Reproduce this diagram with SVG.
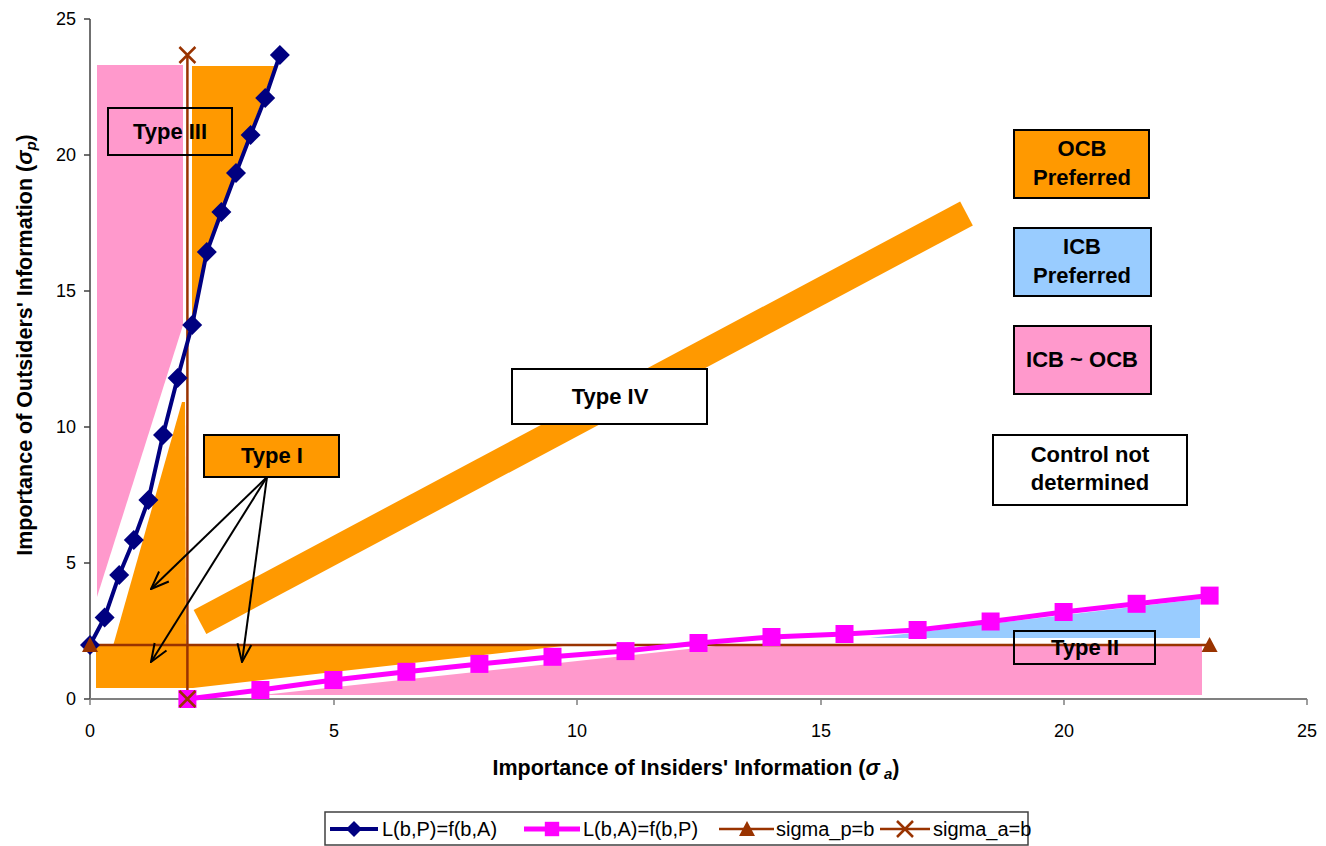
<svg xmlns="http://www.w3.org/2000/svg" width="1326" height="846" viewBox="0 0 1326 846">
<style>
.lbl{font-family:"Liberation Sans",Arial,sans-serif;font-weight:bold;font-size:22px;fill:#000;text-anchor:middle}
.ttl{font-family:"Liberation Sans",Arial,sans-serif;font-weight:bold;font-size:21.5px;fill:#000;text-anchor:middle}
.tick{font-family:"Liberation Sans",Arial,sans-serif;font-size:18px;fill:#000}
.leg{font-family:"Liberation Sans",Arial,sans-serif;font-size:20px;fill:#000}
.box{stroke:#000;stroke-width:2}
.arr{stroke:#000;stroke-width:2;fill:none}
</style>
<defs>
<path id="dia" d="M0,-10 L10,0 L0,10 L-10,0Z" fill="#000080"/>
<rect id="sq" x="-9" y="-9" width="18" height="18" fill="#FF00FF"/>
<path id="tri" d="M0,-8 L8,7 L-8,7Z" fill="#993300"/>
<path id="xm" d="M-8,-8 L8,8 M-8,8 L8,-8" stroke="#993300" stroke-width="2.5" fill="none"/>
<marker id="ah" viewBox="0 0 20 20" refX="19" refY="10" markerWidth="20" markerHeight="20" markerUnits="userSpaceOnUse" orient="auto">
<path d="M1,3 L19,10 L1,17" fill="none" stroke="#000" stroke-width="2"/>
</marker>
</defs>
<rect width="1326" height="846" fill="#fff"/>
<g id="regions">
<polygon points="97,65 183,65 183,325 97,597" fill="#FF99CC"/>
<polygon points="192,66 275,66 240,160 208,247 195,320 192,335" fill="#FF9900"/>
<polygon points="182,402 185,402 186,646 113,646" fill="#FF9900"/>
<polygon points="96,646 563,646 193,688 96,688" fill="#FF9900"/>
<polygon points="262,695 716,646 716,695" fill="#FF99CC"/>
<rect x="716" y="645" width="486" height="50" fill="#FF99CC"/>
<polygon points="870,638 1200,599 1200,638" fill="#99CCFF"/>
<line x1="200" y1="622" x2="966.5" y2="213.5" stroke="#FF9900" stroke-width="27"/>
</g>
<g id="axes">
<line x1="90" y1="19" x2="90" y2="699" stroke="#404040" stroke-width="1.5"/>
<line x1="90" y1="699" x2="1307" y2="699" stroke="#808080" stroke-width="2"/>
<path d="M84,19H90M84,155H90M84,291H90M84,427H90M84,563H90M84,699H90" stroke="#404040" stroke-width="1.5"/>
<path d="M90,699V705M334,699V705M577,699V705M821,699V705M1064,699V705M1307,699V705" stroke="#808080" stroke-width="1.5"/>
<g class="tick" text-anchor="end">
<text x="76" y="25">25</text><text x="76" y="161">20</text><text x="76" y="297">15</text><text x="76" y="433">10</text><text x="76" y="569">5</text><text x="76" y="705">0</text>
</g>
<g class="tick" text-anchor="middle">
<text x="90" y="737">0</text><text x="334" y="737">5</text><text x="577" y="737">10</text><text x="821" y="737">15</text><text x="1064" y="737">20</text><text x="1307" y="737">25</text>
</g>
<text class="ttl" x="696" y="775">Importance of Insiders' Information (<tspan font-style="italic">σ</tspan><tspan font-style="italic" font-size="15" dy="4"> a</tspan><tspan dy="-4">)</tspan></text>
<text class="ttl" transform="translate(32,345) rotate(-90)">Importance of Outsiders' Information (<tspan font-style="italic">σ</tspan><tspan font-style="italic" font-size="15" dy="4">p</tspan><tspan dy="-4">)</tspan></text>
</g>
<g id="connectors">
<line x1="187.4" y1="55" x2="187.4" y2="699" stroke="#993300" stroke-width="2.5"/>
<line x1="90" y1="645" x2="1209.6" y2="645" stroke="#993300" stroke-width="2.5"/>
<polyline points="90,645 104.6,617.4 119.2,575 133.8,540 148.4,500 163,435 177.6,378 192.2,325 206.8,252 221.4,212 236,173 250.6,135 265.2,98 279.9,55" fill="none" stroke="#000080" stroke-width="4"/>
<polyline points="187.4,699 260.4,690 333.4,680 406.4,671.8 479.4,663.9 552.5,656.8 625.5,651.1 698.5,643 771.5,637 844.5,634 917.6,630 990.6,621.5 1063.6,612 1136.6,603.8 1209.6,595.6" fill="none" stroke="#FF00FF" stroke-width="5"/>
<line class="arr" x1="267" y1="477" x2="151" y2="589" marker-end="url(#ah)"/>
<line class="arr" x1="267" y1="477" x2="151" y2="662" marker-end="url(#ah)"/>
<line class="arr" x1="267" y1="477" x2="242" y2="662" marker-end="url(#ah)"/>
</g>
<g id="markers">
<use href="#dia" x="90" y="645"/><use href="#dia" x="104.6" y="617.4"/><use href="#dia" x="119.2" y="575"/><use href="#dia" x="133.8" y="540"/><use href="#dia" x="148.4" y="500"/><use href="#dia" x="163" y="435"/><use href="#dia" x="177.6" y="378"/><use href="#dia" x="192.2" y="325"/><use href="#dia" x="206.8" y="252"/><use href="#dia" x="221.4" y="212"/><use href="#dia" x="236" y="173"/><use href="#dia" x="250.6" y="135"/><use href="#dia" x="265.2" y="98"/><use href="#dia" x="279.9" y="55"/>
<use href="#sq" x="187.4" y="699"/><use href="#sq" x="260.4" y="690"/><use href="#sq" x="333.4" y="680"/><use href="#sq" x="406.4" y="671.8"/><use href="#sq" x="479.4" y="663.9"/><use href="#sq" x="552.5" y="656.8"/><use href="#sq" x="625.5" y="651.1"/><use href="#sq" x="698.5" y="643"/><use href="#sq" x="771.5" y="637"/><use href="#sq" x="844.5" y="634"/><use href="#sq" x="917.6" y="630"/><use href="#sq" x="990.6" y="621.5"/><use href="#sq" x="1063.6" y="612"/><use href="#sq" x="1136.6" y="603.8"/><use href="#sq" x="1209.6" y="595.6"/>
<use href="#tri" x="90" y="645"/><use href="#tri" x="1209.6" y="645"/>
<use href="#xm" x="187.4" y="55"/><use href="#xm" x="187.4" y="699"/>
</g>
<g id="type3"><rect class="box" x="108" y="108" width="124" height="47" fill="none"/><text class="lbl" x="170" y="139">Type III</text></g>
<g id="type1"><rect class="box" x="204" y="435" width="135" height="42" fill="#FF9900"/><text class="lbl" x="272" y="463">Type I</text></g>
<g id="type4"><rect class="box" x="512" y="369" width="195" height="55" fill="#fff"/><text class="lbl" x="610" y="404">Type IV</text></g>
<g id="type2"><rect class="box" x="1014" y="631" width="141" height="33" fill="none"/><text class="lbl" x="1085" y="655">Type II</text></g>
<g id="ocb"><rect class="box" x="1014" y="130" width="135" height="68" fill="#FF9900"/><text class="lbl" x="1082" y="156">OCB</text><text class="lbl" x="1082" y="185">Preferred</text></g>
<g id="icb"><rect class="box" x="1014" y="228" width="137" height="68" fill="#99CCFF"/><text class="lbl" x="1082" y="254">ICB</text><text class="lbl" x="1082" y="283">Preferred</text></g>
<g id="icbocb"><rect class="box" x="1014" y="326" width="137" height="68" fill="#FF99CC"/><text class="lbl" x="1082" y="367">ICB ~ OCB</text></g>
<g id="cnd"><rect class="box" x="993" y="435" width="194" height="70" fill="#fff"/><text class="lbl" x="1090" y="462">Control not</text><text class="lbl" x="1090" y="490">determined</text></g>
<g id="legend">
<rect x="325" y="812" width="703" height="33" fill="#fff" stroke="#404040" stroke-width="1.5"/>
<line x1="330" y1="829" x2="378" y2="829" stroke="#000080" stroke-width="4"/><use href="#dia" transform="translate(354,829) scale(0.8)"/>
<text class="leg" x="382" y="836">L(b,P)=f(b,A)</text>
<line x1="524" y1="829" x2="580" y2="829" stroke="#FF00FF" stroke-width="5"/><use href="#sq" transform="translate(552,829) scale(0.8)"/>
<text class="leg" x="583" y="836">L(b,A)=f(b,P)</text>
<line x1="719" y1="829" x2="774" y2="829" stroke="#993300" stroke-width="2.5"/><use href="#tri" x="747" y="829"/>
<text class="leg" x="776" y="836">sigma_p=b</text>
<line x1="880" y1="829" x2="930" y2="829" stroke="#993300" stroke-width="2.5"/><use href="#xm" x="905" y="829"/>
<text class="leg" x="933" y="836">sigma_a=b</text>
</g>
</svg>
